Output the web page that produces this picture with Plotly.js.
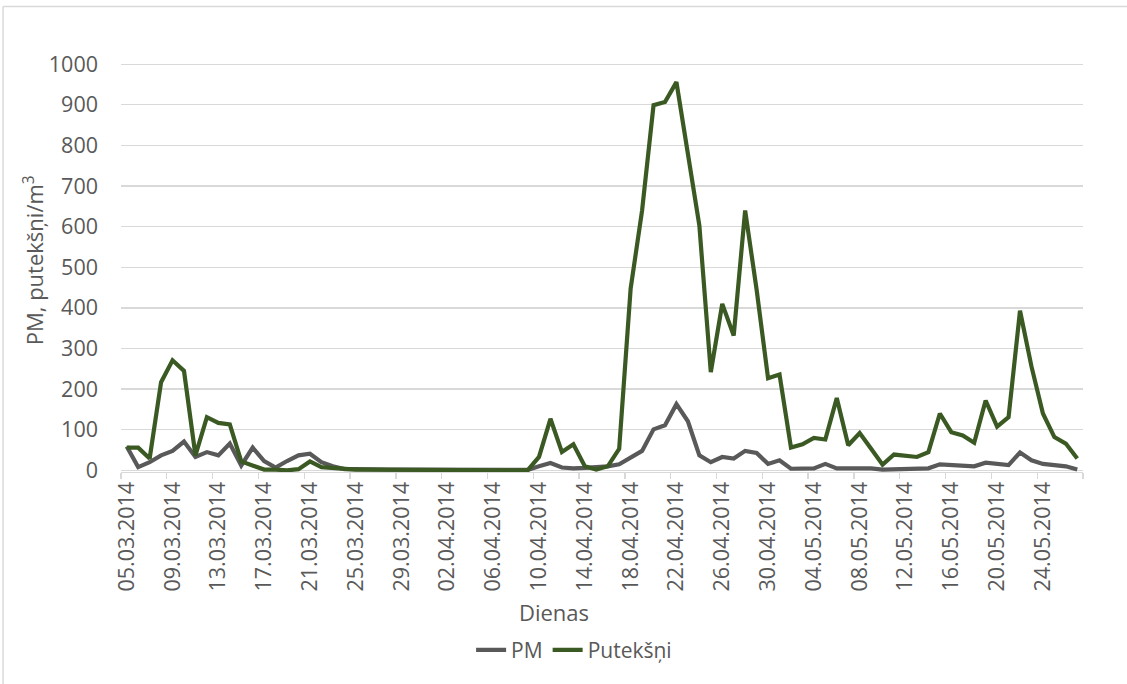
<!DOCTYPE html>
<html>
<head>
<meta charset="utf-8">
<script src="https://cdn.plot.ly/plotly-3.0.1.min.js"></script>
<style>html,body{margin:0;padding:0;background:#fff;}#chart{width:1127px;height:684px;}</style>
</head>
<body>
<div id="chart"></div>
<script>
var dates = [
"05.03.2014","06.03.2014","07.03.2014","08.03.2014","09.03.2014","10.03.2014","11.03.2014","12.03.2014","13.03.2014","14.03.2014",
"15.03.2014","16.03.2014","17.03.2014","18.03.2014","19.03.2014","20.03.2014","21.03.2014","22.03.2014","23.03.2014","24.03.2014",
"25.03.2014","26.03.2014","27.03.2014","28.03.2014","29.03.2014","30.03.2014","31.03.2014","01.04.2014","02.04.2014","03.04.2014",
"04.04.2014","05.04.2014","06.04.2014","07.04.2014","08.04.2014","09.04.2014","10.04.2014","11.04.2014","12.04.2014","13.04.2014",
"14.04.2014","15.04.2014","16.04.2014","17.04.2014","18.04.2014","19.04.2014","20.04.2014","21.04.2014","22.04.2014","23.04.2014",
"24.04.2014","25.04.2014","26.04.2014","27.04.2014","28.04.2014","29.04.2014","30.04.2014","01.05.2014","02.05.2014","03.05.2014",
"04.05.2014","05.05.2014","06.05.2014","07.05.2014","08.05.2014","09.05.2014","10.05.2014","11.05.2014","12.05.2014","13.05.2014",
"14.05.2014","15.05.2014","16.05.2014","17.05.2014","18.05.2014","19.05.2014","20.05.2014","21.05.2014","22.05.2014","23.05.2014",
"24.05.2014","25.05.2014","26.05.2014","27.05.2014"
];

var pm = [
59, 8, 20, 37, 48, 71, 33, 45, 37, 66,
12, 56, 23, 7, 23, 37, 41, 20, 10, 3,
3, 2, 2, 2, 2, 2, 2, 2, 2, 2,
2, 2, 2, 2, 2, 1, 10, 18, 7, 5,
6, 8, 10, 15, 33, 48, 101, 111, 163, 121,
37, 20, 33, 29, 48, 43, 16, 25, 4, 4,
5, 16, 5, 5, 6, 5, 2, 3, 4, 3,
5, 15, 14, 13, 10, 19, 16, 13, 44, 25,
16, 12, 10, 2
];

var putieksni = [
56, 56, 29, 217, 271, 245, 37, 131, 117, 113,
22, 12, 2, 2, 0, 3, 22, 8, 6, 3,
2, 2, 2, 2, 2, 2, 2, 2, 2, 2,
2, 1, 1, 2, 1, 0, 33, 127, 45, 64,
10, 2, 10, 53, 447, 640, 899, 907, 956, 780,
603, 242, 410, 332, 640, 445, 227, 236, 56, 64,
80, 76, 178, 62, 92, 53, 14, 39, 37, 33,
45, 140, 94, 86, 68, 172, 108, 131, 393, 256,
140, 82, 66, 29
];

var seriesNames = ["PM", "Putekšņi"];
var yTicks = [0,100,200,300,400,500,600,700,800,900,1000];

var font = "'Open Sans', 'Noto Sans', sans-serif";
var txt = "#595959";

var traces = [
  {x: dates, y: pm, name: seriesNames[0], type: "scatter", mode: "lines",
   line: {color: "#595959", width: 4.2}, hoverinfo: "x+y+name"},
  {x: dates, y: putieksni, name: seriesNames[1], type: "scatter", mode: "lines",
   line: {color: "#3b5a23", width: 4.2}, hoverinfo: "x+y+name"}
];

var layout = {
  width: 1127, height: 684,
  margin: {l: 121, r: 44, t: 63, b: 212, pad: 0},
  paper_bgcolor: "#ffffff", plot_bgcolor: "#ffffff",
  font: {family: font, size: 21, color: txt},
  showlegend: true,
  legend: {orientation: "h", x: 0.471, xanchor: "center", y: -0.436, yanchor: "middle",
           font: {family: font, size: 21, color: txt}, bgcolor: "rgba(0,0,0,0)"},
  xaxis: {
    type: "category", categoryarray: dates, categoryorder: "array",
    range: [-0.5, 83.5],
    tickmode: "linear", tick0: 0, dtick: 4,
    tickson: "boundaries",
    ticks: "outside", ticklen: 6, tickwidth: 1.3, tickcolor: "#d9d9d9",
    tickangle: -90,
    tickfont: {family: font, size: 21.5, color: txt},
    showgrid: false, zeroline: false,
    showline: true, linecolor: "#d9d9d9", linewidth: 1.3,
    fixedrange: true
  },
  yaxis: {
    range: [-4, 1003],
    tickmode: "array", tickvals: yTicks,
    ticks: "", ticklabelstandoff: 22,
    tickfont: {family: font, size: 21.5, color: txt},
    showgrid: true, gridcolor: "#d9d9d9", gridwidth: 1.3,
    zeroline: false, showline: false,
    fixedrange: true
  },
  annotations: [
    {text: "Dienas", xref: "paper", yref: "paper", x: 0.45, y: -0.343,
     xanchor: "center", yanchor: "middle", showarrow: false,
     font: {family: font, size: 22, color: txt}},
    {text: "PM, putekšņi/m<sup>3</sup>", xref: "paper", yref: "paper", x: -0.0915, y: 0.5176,
     xanchor: "center", yanchor: "middle", textangle: -90, showarrow: false,
     font: {family: font, size: 22, color: txt}}
  ],
  shapes: [
    {type: "line", xref: "paper", yref: "paper", x0: -0.1226, x1: -0.1226, y0: 1.1381, y1: -0.52,
     line: {color: "#d9d9d9", width: 1.5}},
    {type: "line", xref: "paper", yref: "paper", x0: -0.1226, x1: 1.05, y0: 1.1381, y1: 1.1381,
     line: {color: "#d9d9d9", width: 1.5}}
  ]
};

Plotly.newPlot("chart", traces, layout, {displayModeBar: false, staticPlot: true});
</script>
</body>
</html>
